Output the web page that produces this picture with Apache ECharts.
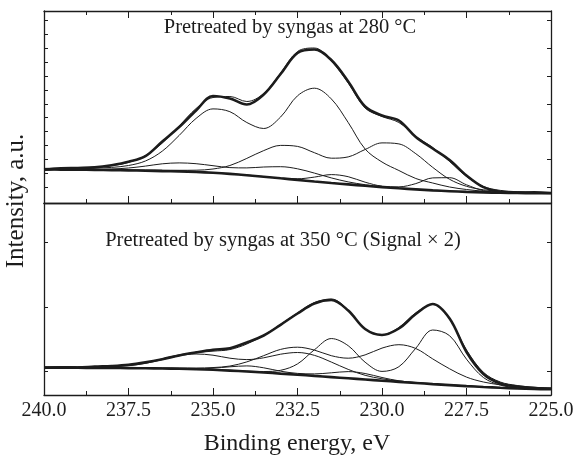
<!DOCTYPE html>
<html>
<head>
<meta charset="utf-8">
<script src="https://cdn.jsdelivr.net/npm/echarts@6.0.0/dist/echarts.min.js"></script>
<style>
  html, body { margin: 0; padding: 0; background: #fff; }
  #chart { width: 577px; height: 458px; }
</style>
</head>
<body>
<div id="chart"></div>
<script>
// Binding energy grid (eV)
var energies = [240, 239.5, 239, 238.5, 238, 237.5, 237, 236.5, 236, 235.5, 235, 234.5, 234, 233.5, 233, 232.5, 232, 231.5, 231, 230.5, 230, 229.5, 229, 228.5, 228, 227.5, 227, 226.5, 226, 225.5, 225];
var xTickLabels = [240.0, 237.5, 235.0, 232.5, 230.0, 227.5, 225.0];

// Top panel: pretreated at 280 °C
var topData = [33.2, 34.6, 35.0, 35.6, 37.8, 41.2, 46.8, 61.5, 76.0, 92.5, 107.0, 104.5, 98.5, 108.5, 129.0, 150.0, 153.5, 143.0, 121.5, 96.5, 87.5, 82.5, 66.0, 54.5, 43.0, 27.5, 15.8, 11.3, 10.4, 10.6, 10.0];
var topFit = [34.5, 34.8, 35.2, 35.8, 37.3, 40.6, 47.4, 60.0, 77.0, 94.5, 105.5, 106.5, 101.5, 109.5, 130.0, 151.5, 155.0, 142.0, 120.0, 95.0, 86.5, 80.5, 66.5, 55.5, 41.5, 26.5, 16.5, 12.6, 11.3, 10.7, 10.4];
var topBackground = [33.5, 33.4, 33.3, 33.1, 32.9, 32.6, 32.3, 31.9, 31.6, 31.0, 30.2, 29.1, 27.8, 26.3, 24.7, 23.1, 21.5, 20.0, 18.6, 17.2, 15.9, 14.7, 13.6, 12.6, 11.8, 11.1, 10.6, 10.2, 10.0, 9.8, 9.7];
var topPeak1 = [34.6, 34.6, 34.8, 35.0, 35.6, 37.5, 42.0, 51.9, 67.6, 84.6, 94.1, 91.3, 80.5, 74.5, 86.0, 107.2, 114.8, 104.1, 80.5, 54.0, 41.0, 32.5, 24.5, 20.0, 16.0, 13.5, 11.8, 10.8, 10.3, 10.1, 10.0];
var topPeak2 = [34.0, 33.9, 33.8, 33.6, 33.5, 33.25, 33.05, 32.85, 32.7, 32.8, 34.0, 37.5, 44.6, 52.4, 57.6, 56.6, 50.3, 44.8, 46.1, 53.5, 60.1, 59.1, 49.3, 35.65, 23.7, 16.7, 13.2, 11.7, 10.9, 10.4, 10.2];
var topPeak3 = [33.6, 33.5, 33.4, 33.2, 33.0, 32.7, 32.4, 32.0, 31.7, 31.1, 30.3, 29.2, 28.0, 26.4, 24.85, 24.2, 25.9, 28.4, 26.3, 20.8, 16.85, 16.15, 19.4, 25.1, 25.3, 18.2, 12.4, 10.4, 10.0, 9.8, 9.7];
var topPeak4 = [33.6, 33.6, 33.6, 33.6, 34.0, 35.0, 36.9, 39.2, 40.1, 39.3, 37.3, 35.4, 35.1, 36.0, 36.3, 34.2, 29.9, 25.1, 21.1, 18.3, 16.4, 15.0, 13.8, 12.7, 11.9, 11.15, 10.65, 10.25, 10.05, 9.85, 9.75];

// Bottom panel: pretreated at 350 °C (signal x 2)
var botData = [27.2, 27.8, 27.5, 28.4, 29.0, 30.2, 32.6, 35.8, 39.6, 42.6, 45.2, 46.8, 52.5, 59.5, 70.2, 81.5, 91.5, 95.0, 84.5, 66.0, 60.0, 66.5, 81.0, 91.0, 76.5, 43.0, 21.0, 11.5, 8.5, 7.0, 6.4];
var botFit = [28.1, 28.15, 28.1, 28.2, 28.7, 29.85, 32.2, 36.1, 40.2, 42.4, 43.85, 45.45, 51.0, 59.75, 70.7, 82.1, 92.5, 96.0, 85.0, 66.0, 60.5, 67.5, 82.2, 90.6, 75.9, 45.0, 22.7, 13.0, 9.5, 7.8, 6.9];
var botBackground = [27.3, 27.3, 27.2, 27.1, 27.0, 26.9, 26.7, 26.5, 26.2, 25.8, 25.2, 24.4, 23.5, 22.5, 21.4, 20.3, 19.1, 17.9, 16.7, 15.5, 14.3, 13.1, 12.0, 10.9, 9.9, 8.9, 8.0, 7.2, 6.5, 6.0, 5.7];
var botPeak1 = [27.4, 27.4, 27.3, 27.2, 27.1, 27.0, 26.8, 26.6, 26.3, 25.95, 25.4, 24.7, 23.9, 23.5, 24.7, 31.1, 45.2, 56.45, 49.3, 32.8, 23.6, 28.3, 46.8, 65.0, 59.3, 35.8, 17.5, 9.9, 7.4, 6.5, 6.0];
var botPeak2 = [27.7, 27.7, 27.55, 27.45, 27.4, 27.35, 27.2, 27.1, 27.0, 27.0, 27.45, 28.95, 33.1, 39.35, 45.6, 47.8, 44.9, 39.3, 36.8, 40.1, 46.9, 50.3, 46.5, 36.1, 26.2, 17.9, 13.0, 10.2, 8.5, 7.2, 6.5];
var botPeak3 = [27.6, 27.65, 27.65, 27.75, 28.2, 29.3, 31.6, 35.4, 39.3, 41.0, 39.8, 36.8, 35.4, 37.2, 40.8, 42.5, 39.65, 32.95, 25.6, 19.7, 16.2, 14.0, 12.6, 11.3, 10.2, 9.15, 8.2, 7.35, 6.65, 6.1, 5.8];
var botPeak4 = [27.3, 27.3, 27.2, 27.1, 27.0, 26.9, 26.7, 26.5, 26.2, 25.85, 26.8, 28.2, 29.1, 27.2, 23.8, 21.6, 21.1, 22.2, 23.4, 21.5, 17.5, 14.2, 12.3, 10.95, 9.9, 8.9, 8.0, 7.2, 6.5, 6.0, 5.7];

// Tick mark positions on the (unlabelled) intensity axes
var topYTicksLeft = [15.8, 29.7, 43.6, 57.5, 71.4, 85.3, 99.2, 113.1, 127, 140.9, 154.8, 168.7, 182.6];
var topYTicksRight = [15.8, 43.6, 71.4, 99.2, 127, 154.8, 182.6];
var botYTicks = [24, 88, 152.7];

var titleTop = 'Pretreated by syngas at 280 \u00B0C';
var titleBot = 'Pretreated by syngas at 350 \u00B0C (Signal \u00D7 2)';
var xName = 'Binding energy, eV';
var yName = 'Intensity, a.u.';

var INK = '#1c1c1c';
var FONT = '"Liberation Serif", "DejaVu Serif", serif';

function pairs(arr) { return energies.map(function (e, i) { return [e, arr[i]]; }); }

function lineSeries(arr, xi, yi, width, z) {
  return {
    type: 'line', data: pairs(arr), xAxisIndex: xi, yAxisIndex: yi,
    showSymbol: false, symbol: 'none', smooth: 0.35, silent: true,
    lineStyle: { color: INK, width: width }, z: z || 2, animation: false
  };
}

function xAxisCfg(gridIndex, position, showLabels, showTicks) {
  return {
    type: 'value', gridIndex: gridIndex, position: position,
    min: 225, max: 240, interval: 2.5, inverse: true,
    axisLine: { show: true, onZero: false, lineStyle: { color: INK, width: 1.3 } },
    axisTick: { show: showTicks, inside: true, length: 7, lineStyle: { color: INK, width: 1 } },
    minorTick: { show: showTicks, splitNumber: 2, length: 4, lineStyle: { color: INK, width: 1 } },
    splitLine: { show: false },
    axisLabel: {
      show: showLabels, margin: 6, color: INK, fontFamily: FONT, fontSize: 20,
      formatter: function (v) {
        return xTickLabels.indexOf(v) >= 0 ? v.toFixed(1) : '';
      }
    }
  };
}

function yAxisCfg(gridIndex, position, ticks) {
  return {
    type: 'value', gridIndex: gridIndex, position: position,
    min: 0, max: 192,
    axisLine: { show: true, onZero: false, lineStyle: { color: INK, width: 1.3 } },
    axisTick: { show: true, inside: true, length: 4, customValues: ticks, lineStyle: { color: INK, width: 1 } },
    axisLabel: { show: false },
    splitLine: { show: false }
  };
}

function label(text, x, y, size, rot) {
  return {
    type: 'text', x: x, y: y, rotation: rot || 0,
    style: { text: text, font: size + 'px ' + FONT, fill: INK, textAlign: 'center', align: 'center', textVerticalAlign: 'middle', verticalAlign: 'middle' }
  };
}

var chart = echarts.init(document.getElementById('chart'), null, { renderer: 'canvas' });
chart.setOption({
  animation: false,
  backgroundColor: '#ffffff',
  grid: [
    { left: 44, right: 26, top: 11, height: 192 },
    { left: 44, right: 26, top: 203, height: 192 }
  ],
  xAxis: [
    xAxisCfg(0, 'bottom', false, true),
    xAxisCfg(0, 'top', false, true),
    xAxisCfg(1, 'bottom', true, true),
    xAxisCfg(1, 'top', false, false)
  ],
  yAxis: [
    yAxisCfg(0, 'left', topYTicksLeft),
    yAxisCfg(0, 'right', topYTicksRight),
    yAxisCfg(1, 'left', botYTicks),
    yAxisCfg(1, 'right', botYTicks)
  ],
  series: [
    lineSeries(topBackground, 0, 0, 2.6, 3),
    lineSeries(topPeak1, 0, 0, 1, 2),
    lineSeries(topPeak2, 0, 0, 1, 2),
    lineSeries(topPeak3, 0, 0, 1, 2),
    lineSeries(topPeak4, 0, 0, 1, 2),
    lineSeries(topFit, 0, 0, 1, 2),
    lineSeries(topData, 0, 0, 2.6, 4),
    lineSeries(botBackground, 2, 2, 2.6, 3),
    lineSeries(botPeak1, 2, 2, 1, 2),
    lineSeries(botPeak2, 2, 2, 1, 2),
    lineSeries(botPeak3, 2, 2, 1, 2),
    lineSeries(botPeak4, 2, 2, 1, 2),
    lineSeries(botFit, 2, 2, 1, 2),
    lineSeries(botData, 2, 2, 2.6, 4)
  ],
  graphic: [
    label(titleTop, 290, 28, 20.5),
    label(titleBot, 283, 241, 20.5),
    label(xName, 297, 444, 24),
    label(yName, 16, 201, 25, Math.PI / 2)
  ]
});
</script>
</body>
</html>
